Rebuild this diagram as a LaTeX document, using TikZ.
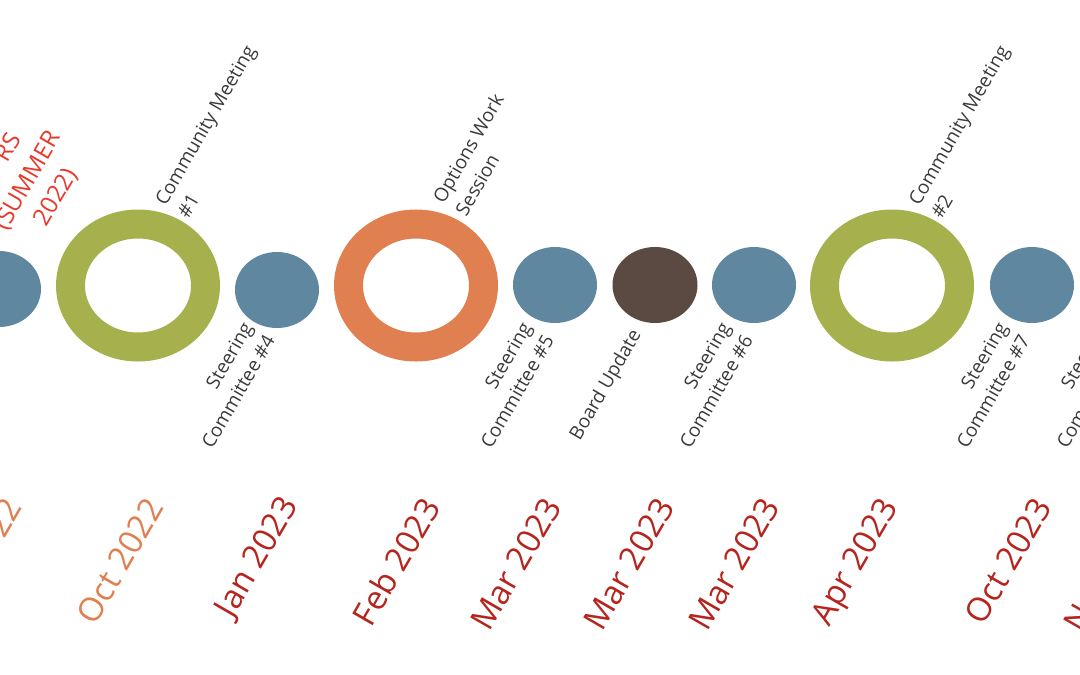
\documentclass[tikz,border=0pt]{standalone}
\usepackage{fontspec}
\setmainfont{Open Sans}
\usetikzlibrary{shapes.geometric}
\definecolor{cblue}{HTML}{5F879F}
\definecolor{cgreen}{HTML}{A6B14E}
\definecolor{corange}{HTML}{E07F4F}
\definecolor{cbrown}{HTML}{5A4A42}
\definecolor{cdate}{HTML}{B5251E}
\definecolor{cred}{HTML}{E8392C}
\definecolor{ctext}{HTML}{3A3A3A}
\begin{document}
\begin{tikzpicture}[x=1pt,y=-1pt,
  dot/.style={ellipse,fill=cblue,minimum width=84pt,minimum height=76pt,inner sep=0pt},
  ring/.style={ellipse,draw=#1,line width=29pt,minimum width=135pt,minimum height=123pt,inner sep=0pt},
  toplabel/.style={rotate=60,anchor=north west,align=left,inner sep=0pt,text=ctext,font=\fontsize{19}{26}\selectfont},
  botlabel/.style={rotate=60,anchor=north east,align=right,inner sep=0pt,text=ctext,font=\fontsize{19}{26}\selectfont},
  datelabel/.style={rotate=60,inner sep=0pt,text=cdate,font=\fontsize{33}{40}\selectfont}]
\useasboundingbox (0,0) rectangle (1080,675);
\clip (0,0) rectangle (1080,675);
% circles
\node[dot] (s3) at (-1,289) {};
\node[ring=cgreen] (cm1) at (138,285.5) {};
\node[dot] (s4) at (277,290) {};
\node[ring=corange] (ow) at (416,285.5) {};
\node[dot] (s5) at (555,285) {};
\node[dot,fill=cbrown,minimum width=85pt] (bu) at (655,285) {};
\node[dot] (s6) at (754,285) {};
\node[ring=cgreen] (cm2) at (892,285.5) {};
\node[dot] (s7) at (1032,285) {};
% top labels
\node[rotate=60,align=center,inner sep=0pt,text=cred,font=\fontsize{24}{33}\selectfont] (fg) at (28,181) {\hspace*{1.6em}RS\\(SUMMER\\2022)};
\node[toplabel] (lcm1) at (153.5,199.5) {Community Meeting\\\#1};
\node[toplabel] (low) at (431,197) {Options Work\\Session};
\node[toplabel] (lcm2) at (907,200) {Community Meeting\\\#2};
% bottom labels
\node[botlabel] (ls4) at (241,320) {Steering\\Committee \#4};
\node[botlabel] (ls5) at (520,320) {Steering\\Committee \#5};
\node[botlabel] (lbu) at (629,327) {Board Update};
\node[botlabel] (ls6) at (719,320) {Steering\\Committee \#6};
\node[botlabel] (ls7) at (996,320) {Steering\\Committee \#7};
\node[botlabel] (ls8) at (1096,320) {Steering\\Committee \#8};
% dates
\node[datelabel,text=corange,anchor=east] (d0) at (13,501) {2022};
\node[datelabel,text=corange] (d1) at (120,561) {Oct 2022};
\node[datelabel] (d2) at (258,558) {Jan 2023};
\node[datelabel] (d3) at (396,562) {Feb 2023};
\node[datelabel] (d4) at (516,564) {Mar 2023};
\node[datelabel] (d5) at (629,564) {Mar 2023};
\node[datelabel] (d6) at (734,564) {Mar 2023};
\node[datelabel] (d7) at (857,563) {Apr 2023};
\node[datelabel] (d8) at (1008,561) {Oct 2023};
\node[datelabel] (d9) at (1108,566) {Nov 2023};
\end{tikzpicture}
\end{document}
